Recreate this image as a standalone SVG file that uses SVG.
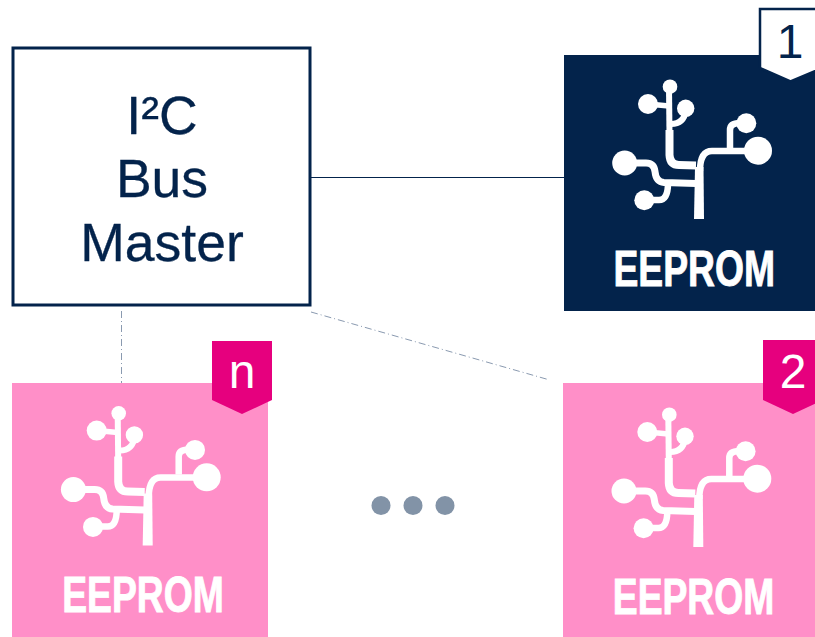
<svg xmlns="http://www.w3.org/2000/svg" xmlns:xlink="http://www.w3.org/1999/xlink" width="815" height="637" viewBox="0 0 815 637">
<style>
text{font-family:"Liberation Sans",Arial,sans-serif}
.title{font-size:53.5px;fill:#03234b;text-anchor:middle;stroke:#03234b;stroke-width:.3}
.badge{font-size:48px;text-anchor:middle}
.chip{font-size:49.5px;font-weight:bold;fill:#fff;stroke:#fff;stroke-width:.9;stroke-linejoin:miter}
.wire{fill:none;stroke:#fff;stroke-width:6.5}
.dash{fill:none;stroke:#8a9ab0;stroke-width:1;stroke-dasharray:7 3 1 3}
</style>
<defs>
<g id="icon">
<path d="M130,164 L140,164 L139.5,112 L131,112 Z" fill="#fff"/>
<path class="wire" d="M136,116 Q136,96 148,96 L187,96"/>
<path class="wire" style="stroke-width:8" d="M132,110.5 L115,110 Q106,110 105.5,100 L105.5,75"/>
<path class="wire" style="stroke-width:6" d="M105.5,80 L105,32"/>
<path class="wire" style="stroke-width:5.5" d="M84,49 L105,51"/>
<path class="wire" style="stroke-width:6" d="M107,69 Q120,69 122,55"/>
<path class="wire" style="stroke-width:6.5" d="M166,93 L166,75 Q166,68 176,68"/>
<path class="wire" style="stroke-width:7" d="M61,108 L82,108 Q90,108 91,116.5 Q92,127 100,127.5 L132,128.5"/>
<path class="wire" style="stroke-width:6.5" d="M80,145 L95,145 Q104,145 104,128"/>
<g fill="#fff">
<circle cx="106" cy="31.7" r="7.3"/>
<circle cx="84" cy="49" r="10"/>
<circle cx="121.7" cy="53.3" r="8.7"/>
<circle cx="182.3" cy="68.3" r="10"/>
<circle cx="194" cy="95.7" r="14"/>
<circle cx="60.7" cy="108" r="12.5"/>
<circle cx="80.3" cy="145.3" r="10"/>
</g>
<text class="chip" x="49.5" y="230.5" textLength="161.5" lengthAdjust="spacingAndGlyphs">EEPROM</text>
</g>
</defs>
<g id="connectors">
<line x1="311" y1="177.5" x2="564" y2="177.5" stroke="#03234b" stroke-width="1"/>
<line class="dash" x1="121.5" y1="311" x2="121.5" y2="383"/>
<line class="dash" x1="311" y1="312" x2="548" y2="379.5"/>
</g>
<g id="master">
<rect x="13" y="48" width="297" height="257" fill="#fff" stroke="#03234b" stroke-width="3"/>
<text class="title" x="162" y="134">I²C</text>
<text class="title" x="162" y="197">Bus</text>
<text class="title" x="162" y="261">Master</text>
</g>
<g id="eeprom-1">
<rect x="564" y="55" width="251" height="256" fill="#03234b"/>
<use xlink:href="#icon" href="#icon" x="564" y="55"/>
<polygon points="760,9 822,9 822,68 790.5,81.5 760,68" fill="#fff" stroke="#03234b" stroke-width="2.5"/>
<text class="badge" x="790" y="58" fill="#03234b">1</text>
</g>
<g id="eeprom-n">
<rect x="12" y="383" width="256" height="254" fill="#ff8fc8"/>
<use xlink:href="#icon" href="#icon" x="12.7" y="381.6"/>
<polygon points="212,341 272,341 272,400 242,414 212,400" fill="#e6007e"/>
<text class="badge" x="242" y="388" fill="#fff">n</text>
</g>
<g id="eeprom-2">
<rect x="563" y="383" width="252" height="254" fill="#ff8fc8"/>
<use xlink:href="#icon" href="#icon" x="563.3" y="383"/>
<polygon points="763,340 823,340 823,400 793,414 763,400" fill="#e6007e"/>
<text class="badge" x="793" y="388" fill="#fff">2</text>
</g>
<g id="ellipsis" fill="#8293a7">
<circle cx="381" cy="505.5" r="9.5"/>
<circle cx="413" cy="505.5" r="9.5"/>
<circle cx="445" cy="505.5" r="9.5"/>
</g>
</svg>
